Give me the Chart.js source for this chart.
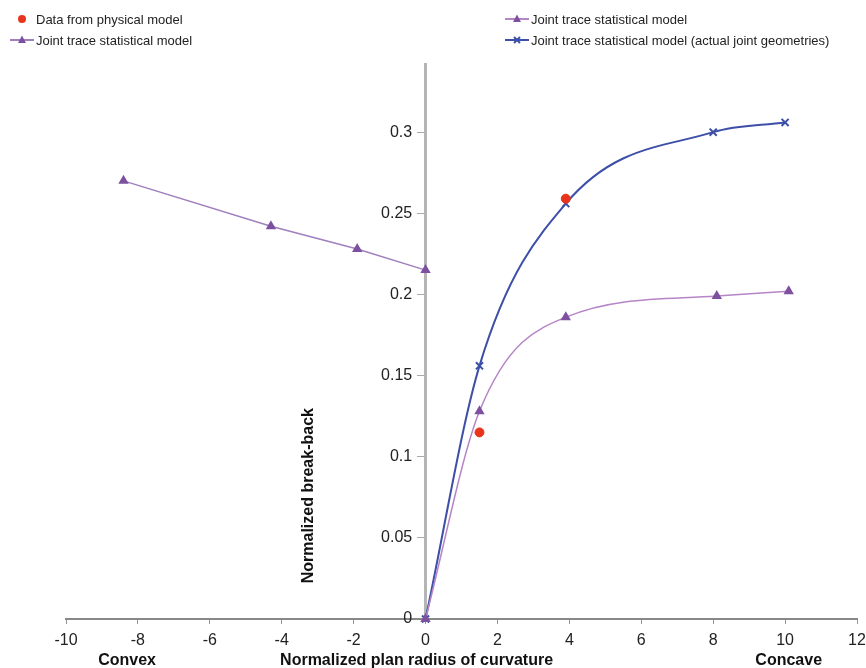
<!DOCTYPE html>
<html>
<head>
<meta charset="utf-8">
<script src="https://cdn.jsdelivr.net/npm/chart.js@4/dist/chart.umd.min.js"></script>
<style>
  html, body { margin: 0; padding: 0; background: #fff; }
  #wrap { position: relative; width: 866px; height: 668px; }
  #legend { position: absolute; left: 0; top: 0; width: 866px; font: 13px "Liberation Sans", Arial, sans-serif; color: #222; }
  .item { position: absolute; display: flex; align-items: center; height: 16px; white-space: nowrap; }
  .item svg { margin-right: 2px; }
</style>
</head>
<body>
<div id="wrap">
  <canvas id="curveChart" width="866" height="668"></canvas>
  <div id="legend"></div>
</div>
<script>
const xTicks = [-10, -8, -6, -4, -2, 0, 2, 4, 6, 8, 10, 12];
const yTicks = [0, 0.05, 0.1, 0.15, 0.2, 0.25, 0.3];

// physical model measurements
const physicalX = [1.5, 3.9];
const physicalY = [0.115, 0.259];

// statistical model, concave side
const concaveX = [0, 1.5, 3.9, 8.1, 10.1];
const concaveY = [0, 0.128, 0.186, 0.199, 0.202];

// statistical model, convex side
const convexX = [-8.4, -4.3, -1.9, 0];
const convexY = [0.27, 0.242, 0.228, 0.215];

// statistical model with actual joint geometries
const actualX = [0, 1.5, 3.9, 8.0, 10.0];
const actualY = [0, 0.156, 0.256, 0.3, 0.306];

function pts(xs, ys) {
  return xs.map((x, i) => ({ x: x, y: ys[i] }));
}

const FONT = '"Liberation Sans", Arial, sans-serif';

document.addEventListener('DOMContentLoaded', function () {
  const ctx = document.getElementById('curveChart').getContext('2d');

  // axis titles drawn by hand: a centred y axis would rotate its title the wrong way
  const titles = {
    id: 'axisTitles',
    afterDraw(chart) {
      const c = chart.ctx;
      const xs = chart.scales.x;
      const ys = chart.scales.y;
      c.save();
      c.fillStyle = '#111';
      c.font = 'bold 16px ' + FONT;
      c.textAlign = 'center';
      c.textBaseline = 'alphabetic';
      const by = ys.getPixelForValue(0) + 46;
      c.fillText('Convex', xs.getPixelForValue(-8.3), by);
      c.fillText('Normalized plan radius of curvature', xs.getPixelForValue(-0.25), by);
      c.fillText('Concave', xs.getPixelForValue(10.1), by);
      c.translate(xs.getPixelForValue(-3.13), ys.getPixelForValue(0.076));
      c.rotate(-Math.PI / 2);
      c.fillText('Normalized break-back', 0, 0);
      c.restore();
    },
  };

  const chart = new Chart(ctx, {
    type: 'scatter',
    data: {
      datasets: [
        {
          label: 'Data from physical model',
          data: pts(physicalX, physicalY),
          showLine: false,
          pointStyle: 'circle',
          pointRadius: 4.5,
          backgroundColor: '#e8341c',
          borderColor: '#e8341c',
        },
        {
          label: 'Joint trace statistical model',
          data: pts(concaveX, concaveY),
          showLine: true,
          cubicInterpolationMode: 'monotone',
          borderColor: '#b585c8',
          borderWidth: 1.5,
          pointStyle: 'triangle',
          pointRadius: 4.5,
          pointBackgroundColor: '#7d519f',
          pointBorderColor: '#7d519f',
          clip: false,
        },
        {
          label: 'Joint trace statistical model',
          data: pts(convexX, convexY),
          showLine: true,
          borderColor: '#a07fbd',
          borderWidth: 1.5,
          pointStyle: 'triangle',
          pointRadius: 4.5,
          pointBackgroundColor: '#7d519f',
          pointBorderColor: '#7d519f',
          clip: false,
        },
        {
          label: 'Joint trace statistical model (actual joint geometries)',
          data: pts(actualX, actualY),
          showLine: true,
          cubicInterpolationMode: 'monotone',
          borderColor: '#3d4fa6',
          borderWidth: 2,
          pointStyle: 'crossRot',
          pointRadius: 5,
          pointBorderWidth: 2,
          pointBorderColor: '#3d4fa6',
          clip: false,
        },
      ],
    },
    options: {
      responsive: false,
      animation: false,
      layout: { padding: { left: 66, right: 9, top: 64, bottom: 49 } },
      plugins: {
        legend: { display: false },
        tooltip: { enabled: false },
      },
      scales: {
        x: {
          type: 'linear',
          position: { y: 0 },
          min: -10,
          max: 12,
          afterBuildTicks: (s) => { s.ticks = xTicks.map((v) => ({ value: v })); },
          // end labels may hang into the page margin
          afterFit: (s) => { s.paddingLeft = 0; s.paddingRight = 0; },
          grid: { drawOnChartArea: false, drawTicks: true, tickLength: 4, color: '#999' },
          border: { display: true, color: '#888', width: 2 },
          ticks: { color: '#222', font: { family: FONT, size: 16 }, padding: 8 },
        },
        y: {
          type: 'linear',
          position: { x: 0 },
          min: 0,
          max: 0.342,
          afterBuildTicks: (s) => { s.ticks = yTicks.map((v) => ({ value: v })); },
          grid: { drawOnChartArea: false, drawTicks: true, tickLength: 7, color: '#aaa' },
          border: { display: true, color: '#b5b5b5', width: 3 },
          ticks: {
            color: '#222',
            font: { family: FONT, size: 16 },
            // trailing spaces push the labels off the centred axis line
            callback: (v) => String(+v.toFixed(2)) + '   ',
          },
        },
      },
    },
    plugins: [titles],
  });

  // html legend, two columns
  const slots = [
    [10, 11],
    [505, 11],
    [10, 32],
    [505, 32],
  ];
  const legend = document.getElementById('legend');
  chart.data.datasets.forEach((ds, i) => {
    const item = document.createElement('div');
    item.className = 'item';
    item.style.left = slots[i][0] + 'px';
    item.style.top = slots[i][1] + 'px';
    let mark = '';
    if (ds.showLine) {
      mark += '<line x1="0" y1="8" x2="24" y2="8" stroke="' + ds.borderColor + '" stroke-width="2"/>';
    }
    if (ds.pointStyle === 'circle') {
      mark += '<circle cx="12" cy="8" r="4" fill="' + ds.backgroundColor + '"/>';
    } else if (ds.pointStyle === 'triangle') {
      mark += '<polygon points="12,3.5 16,11 8,11" fill="' + ds.pointBackgroundColor + '"/>';
    } else {
      mark += '<path d="M9,5 L15,11 M15,5 L9,11" stroke="' + ds.pointBorderColor + '" stroke-width="2"/>';
    }
    item.innerHTML = '<svg width="24" height="16">' + mark + '</svg><span>' + ds.label + '</span>';
    legend.appendChild(item);
  });
});
</script>
</body>
</html>
